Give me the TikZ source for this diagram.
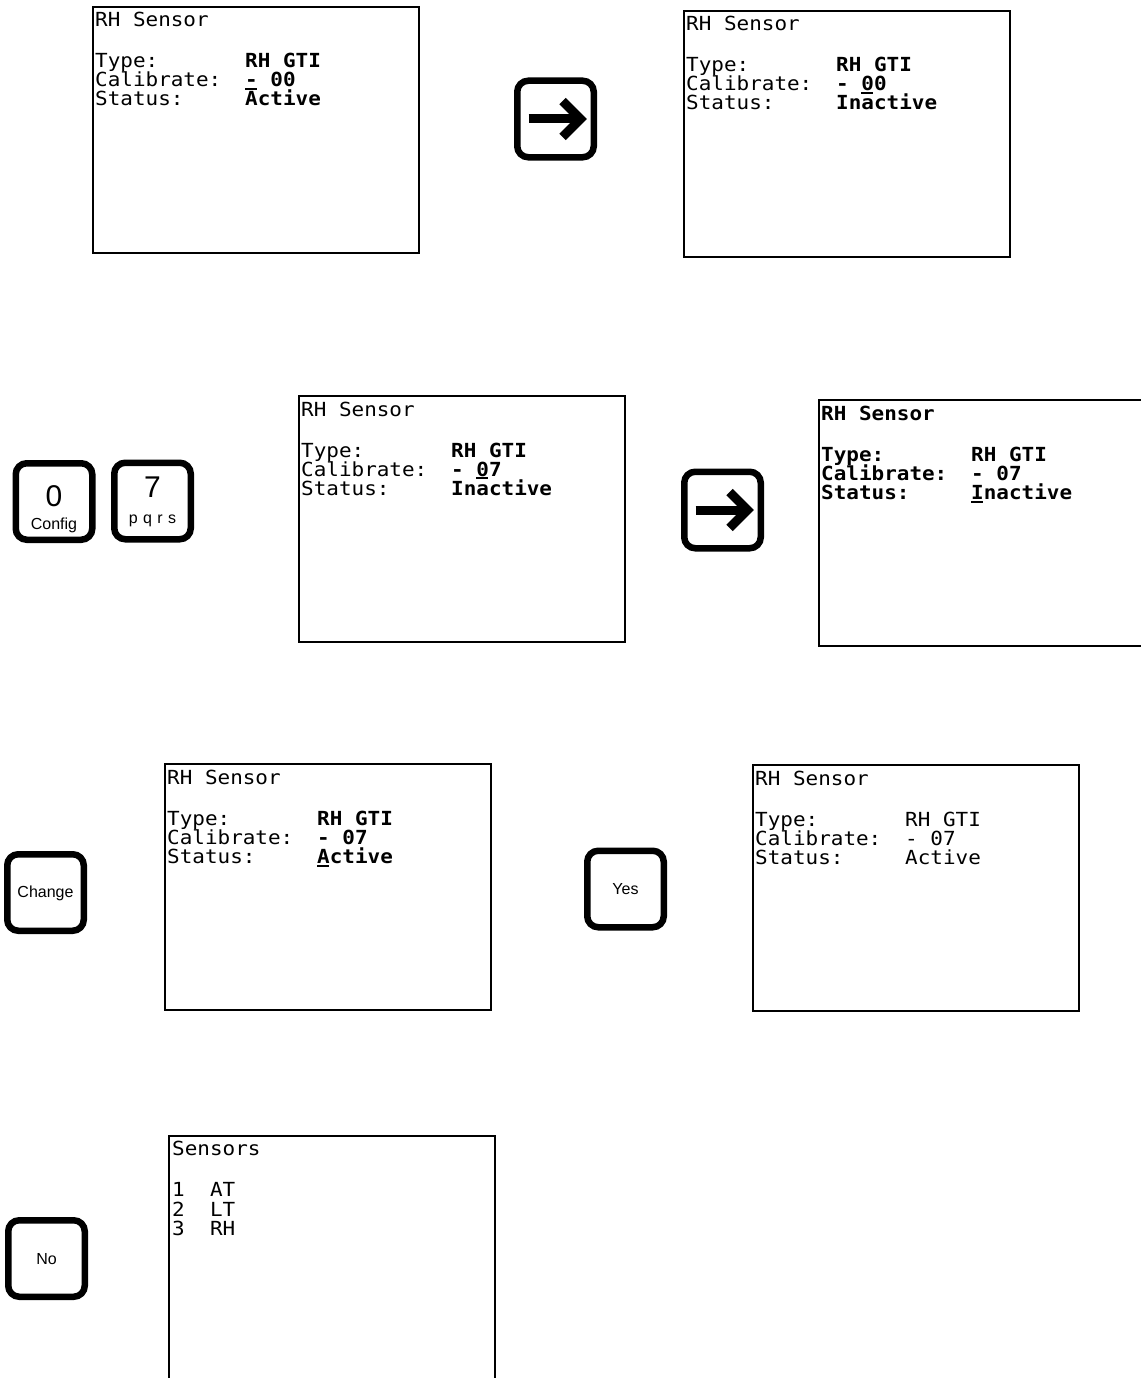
\documentclass[tikz,border=0pt]{standalone}
\usepackage{fontspec}
\setsansfont{Liberation Sans}
\newfontfamily\mono[FakeStretch=1.08]{DejaVu Sans Mono}
\usetikzlibrary{calc}
\tikzset{
  screen/.style={draw, line width=1.6pt, anchor=north west, inner sep=0pt,
    minimum width=326pt, minimum height=246pt},
  txt/.style={anchor=base west, inner sep=0pt, font=\mono\fontsize{19.4}{20}\selectfont},
  bold/.style={font=\mono\bfseries\fontsize{19.4}{20}\selectfont},
  plain/.style={},
  uline/.style={line width=1.5pt},
  keybox/.style={draw, line width=6.5pt, rounded corners=11pt, inner sep=0pt,
    minimum width=76.5pt, minimum height=76.5pt},
  arrowln/.style={line width=9pt, miter limit=10},
  bignum/.style={font=\sffamily\fontsize{30}{30}\selectfont, inner sep=0pt, anchor=base},
  keytxt/.style={font=\sffamily\fontsize{16}{16}\selectfont, inner sep=0pt},
}
\newcommand\rhscr[7]{%
  \node[txt,#2] (#1h) at ($(#1.north west)+(3,21)$) {RH Sensor};
  \node[txt,#2] (#1a) at ($(#1.north west)+(3,62)$) {Type:};
  \node[txt,#2] (#1b) at ($(#1.north west)+(3,81)$) {Calibrate:};
  \node[txt,#2] (#1c) at ($(#1.north west)+(3,100)$) {Status:};
  \node[txt,#3] (#1d) at ($(#1.north west)+(153,62)$) {#5};
  \node[txt,#3] (#1e) at ($(#1.north west)+(153,81)$) {#6};
  \node[txt,#3] (#1f) at ($(#1.north west)+(153,100)$) {#7};
}
\newcommand\arrowkey[1]{%
  \draw[arrowln] ($(#1)+(-27,0)$) -- ($(#1)+(22,0)$);
  \draw[arrowln] ($(#1)+(7,-18)$) -- ($(#1)+(25,0)$) -- ($(#1)+(7,18)$);
}
\begin{document}
\begin{tikzpicture}[x=1pt,y=-1pt]
\useasboundingbox (0,0) rectangle (1140,1378);

% Row 1
\node[screen] (s1) at (92,6) {};
\rhscr{s1}{plain}{bold}{}{RH GTI}{- 00}{Active}
\draw[uline] ($(s1.north west)+(153,83)$) -- ++(12,0);

\node[keybox] (ak1) at (555.5,119) {};
\arrowkey{ak1}

\node[screen] (s2) at (683,10) {};
\rhscr{s2}{plain}{bold}{}{RH GTI}{- 00}{Inactive}
\draw[uline] ($(s2.north west)+(178,83)$) -- ++(12,0);

% Row 2
\node[keybox] (k0) at (54,501.5) {};
\node[bignum] (k0n) at (54,506.5) {0};
\node[keytxt, anchor=base] (k0t) at (54,529) {Config};

\node[keybox] (k7) at (152.5,501) {};
\node[bignum] (k7n) at (152.5,497) {7};
\node[keytxt, anchor=base] (k7t) at (152.5,523) {p\,\,q\,\,r\,\,s};

\node[screen] (s3) at (298,395) {};
\rhscr{s3}{plain}{bold}{}{RH GTI}{- 07}{Inactive}
\draw[uline] ($(s3.north west)+(178,83)$) -- ++(12,0);

\node[keybox] (ak2) at (722.5,510) {};
\arrowkey{ak2}

\node[screen] (s4) at (818,399) {};
\rhscr{s4}{bold}{bold}{}{RH GTI}{- 07}{Inactive}
\draw[uline] ($(s4.north west)+(153,103)$) -- ++(12,0);

% Row 3
\node[keybox] (kc) at (45.5,892.5) {};
\node[keytxt] (kct) at (45.5,893) {Change};

\node[screen] (s5) at (164,763) {};
\rhscr{s5}{plain}{bold}{}{RH GTI}{- 07}{Active}
\draw[uline] ($(s5.north west)+(153,103)$) -- ++(12,0);

\node[keybox] (ky) at (625.5,889) {};
\node[keytxt] (kyt) at (625.5,889) {Yes};

\node[screen] (s6) at (752,764) {};
\rhscr{s6}{plain}{plain}{}{RH GTI}{- 07}{Active}

% Row 4
\node[keybox] (kn) at (46.5,1258.5) {};
\node[keytxt] (knt) at (46.5,1259) {No};

\node[screen] (s7) at (168,1135) {};
\node[txt] (s7h) at ($(s7.north west)+(4,20)$) {Sensors};
\node[txt] (s7a) at ($(s7.north west)+(4,61)$) {1\ \ AT};
\node[txt] (s7b) at ($(s7.north west)+(4,81)$) {2\ \ LT};
\node[txt] (s7c) at ($(s7.north west)+(4,100)$) {3\ \ RH};
\end{tikzpicture}
\end{document}
